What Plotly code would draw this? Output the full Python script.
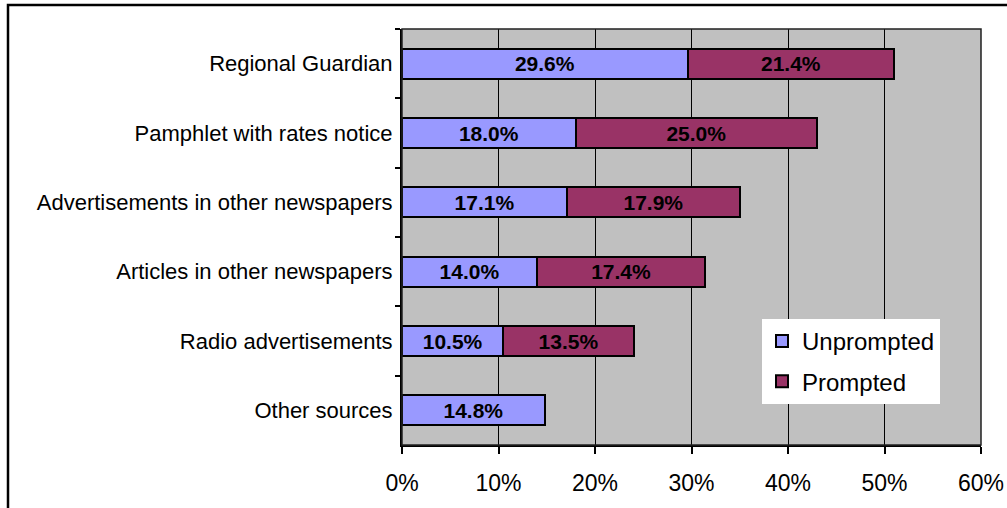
import plotly.graph_objects as go

# Information sources (top to bottom)
categories = [
    "Regional Guardian",
    "Pamphlet with rates notice",
    "Advertisements in other newspapers",
    "Articles in other newspapers",
    "Radio advertisements",
    "Other sources",
]
unprompted = [29.6, 18.0, 17.1, 14.0, 10.5, 14.8]
prompted = [21.4, 25.0, 17.9, 17.4, 13.5, None]
x_ticks = [0, 10, 20, 30, 40, 50, 60]
x_tick_labels = ["0%", "10%", "20%", "30%", "40%", "50%", "60%"]

FONT = "Liberation Sans, Arial, sans-serif"


def labels(values):
    return [f"{v:.1f}%" if v else "" for v in values]


fig = go.Figure()
for name, vals, color, grp in [
    ("Unprompted", unprompted, "#9999FF", "u"),
    ("Prompted", prompted, "#993366", "p"),
]:
    fig.add_trace(go.Bar(
        y=categories,
        x=vals,
        name=name,
        orientation="h",
        legendgroup=grp,
        marker=dict(color=color, line=dict(color="black", width=2)),
        text=labels(vals),
        textposition="inside",
        insidetextanchor="middle",
        textangle=0,
        textfont=dict(family=FONT, size=21, color="black", weight="bold"),
        hoverinfo="skip",
    ))

W, H = 1007, 508
L, R, T, B = 402, 26, 29, 63
pw, ph = W - L - R, H - T - B

fig.update_layout(
    width=W, height=H,
    margin=dict(l=L, r=R, t=T, b=B, autoexpand=False),
    barmode="stack",
    bargap=0.565,
    paper_bgcolor="white",
    plot_bgcolor="#C0C0C0",
    font=dict(family=FONT, color="black"),
    showlegend=True,
    legend=dict(
        x=(762 - L) / pw, y=(H - B - 319) / ph,
        xanchor="left", yanchor="top",
        bgcolor="white",
        borderwidth=0,
        font=dict(family=FONT, size=24, color="black"),
        traceorder="grouped",
        tracegroupgap=6,
    ),
    xaxis=dict(
        range=[0, 60],
        tickvals=x_ticks,
        ticktext=x_tick_labels,
        tickfont=dict(family=FONT, size=23, color="black"),
        showgrid=True, gridcolor="black", gridwidth=1,
        showline=True, linecolor="black", linewidth=2,
        ticks="outside", ticklen=7, tickcolor="black", tickwidth=1.5,
        ticklabelstandoff=9,
        automargin=False,
        zeroline=False,
        fixedrange=True,
    ),
    yaxis=dict(
        categoryorder="array",
        categoryarray=categories,
        autorange="reversed",
        tickfont=dict(family=FONT, size=22, color="black"),
        showline=True, linecolor="black", linewidth=2,
        ticks="outside", tickson="boundaries", ticklen=5,
        tickcolor="black", tickwidth=1.5,
        ticklabelstandoff=3,
        automargin=False,
        showgrid=False,
        fixedrange=True,
    ),
    shapes=[
        # plot area frame (top/right)
        dict(type="rect", xref="paper", yref="paper", x0=0, x1=1, y0=0, y1=1,
             line=dict(color="#202020", width=1.5), layer="above"),
        # outer chart border
        dict(type="rect", xref="paper", yref="paper",
             x0=(8 - L) / pw, x1=(W + 4 - L) / pw,
             y0=(H - B - (H + 4)) / ph, y1=(H - B - 5) / ph,
             line=dict(color="black", width=2.5)),
    ],
)

fig.write_html("out.html")
